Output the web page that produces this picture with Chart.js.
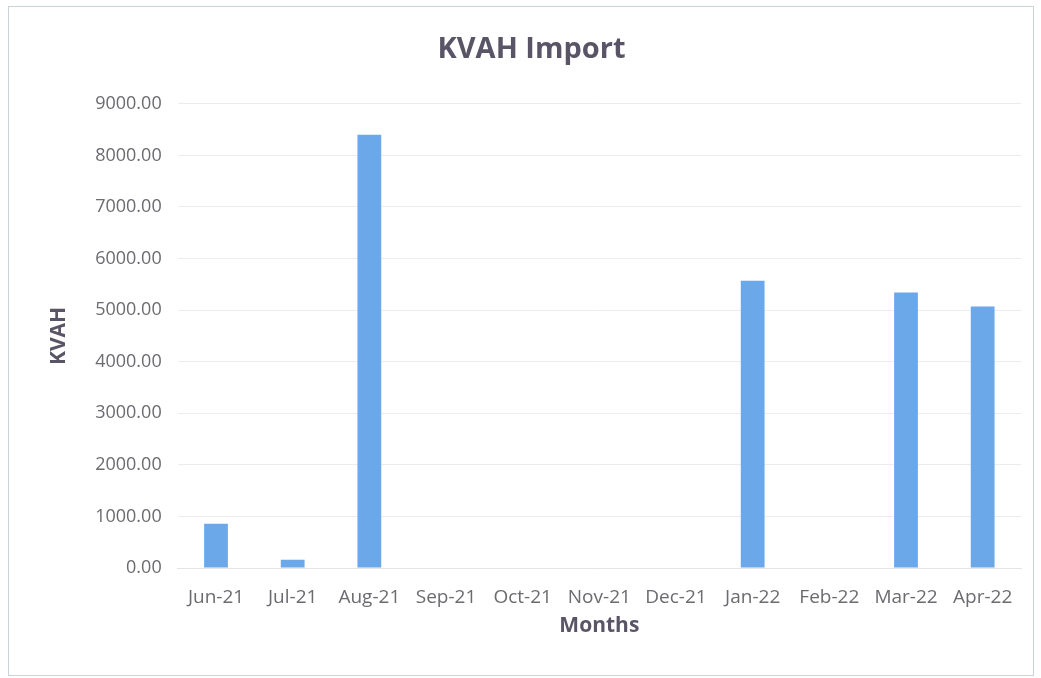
<!DOCTYPE html>
<html>
<head>
<meta charset="utf-8">
<script src="https://cdn.jsdelivr.net/npm/chart.js@4/dist/chart.umd.min.js"></script>
<style>
    body { margin: 0; background: #ffffff; }
    .frame {
        position: absolute;
        left: 8px; top: 6px;
        width: 1026px; height: 670px;
        border: 1px solid #c9d3dc;
        box-sizing: border-box;
        background: #fff;
    }
    canvas { display: block; }
</style>
</head>
<body>
<div class="frame">
    <canvas id="chart" width="1024" height="668"></canvas>
</div>
<script>
const months = ['Jun-21', 'Jul-21', 'Aug-21', 'Sep-21', 'Oct-21', 'Nov-21', 'Dec-21', 'Jan-22', 'Feb-22', 'Mar-22', 'Apr-22'];
const kvahImport = [860, 160, 8400, 0, 0, 0, 0, 5570, 0, 5340, 5070];
const yTicks = [0, 1000, 2000, 3000, 4000, 5000, 6000, 7000, 8000, 9000];

const ctx = document.getElementById('chart').getContext('2d');
new Chart(ctx, {
    type: 'bar',
    data: {
        labels: months,
        datasets: [{
            label: 'KVAH',
            data: kvahImport,
            backgroundColor: '#6aa8ea',
            barPercentage: 0.31,
            categoryPercentage: 1.0
        }]
    },
    options: {
        responsive: false,
        animation: false,
        layout: { padding: { left: 33, right: 12, top: 25, bottom: 32 } },
        plugins: {
            legend: { display: false },
            tooltip: { enabled: false },
            title: {
                display: true,
                text: 'KVAH Import',
                color: '#5a5566',
                font: { family: 'Open Sans', size: 29, weight: 'bold' },
                padding: { top: 0, bottom: 37 }
            }
        },
        scales: {
            x: {
                grid: { display: false },
                border: { display: true, color: '#e4e4e4' },
                ticks: {
                    color: '#6b6b70',
                    font: { family: 'Open Sans', size: 19 },
                    maxRotation: 0,
                    padding: 10
                },
                title: {
                    display: true,
                    text: 'Months',
                    color: '#5a5566',
                    font: { family: 'Open Sans', size: 21, weight: 'bold' },
                    padding: { top: -5 }
                }
            },
            y: {
                min: 0,
                max: 9000,
                afterBuildTicks: axis => { axis.ticks = yTicks.map(v => ({ value: v })); },
                grid: { color: '#ececec', drawTicks: false },
                border: { display: false },
                ticks: {
                    color: '#6b6b70',
                    font: { family: 'Open Sans', size: 18 },
                    padding: 16,
                    callback: v => Number(v).toFixed(2)
                },
                title: {
                    display: true,
                    text: 'KVAH',
                    color: '#5a5566',
                    font: { family: 'Open Sans', size: 21, weight: 'bold' },
                    padding: { bottom: 8 }
                }
            }
        }
    }
});
</script>
</body>
</html>
